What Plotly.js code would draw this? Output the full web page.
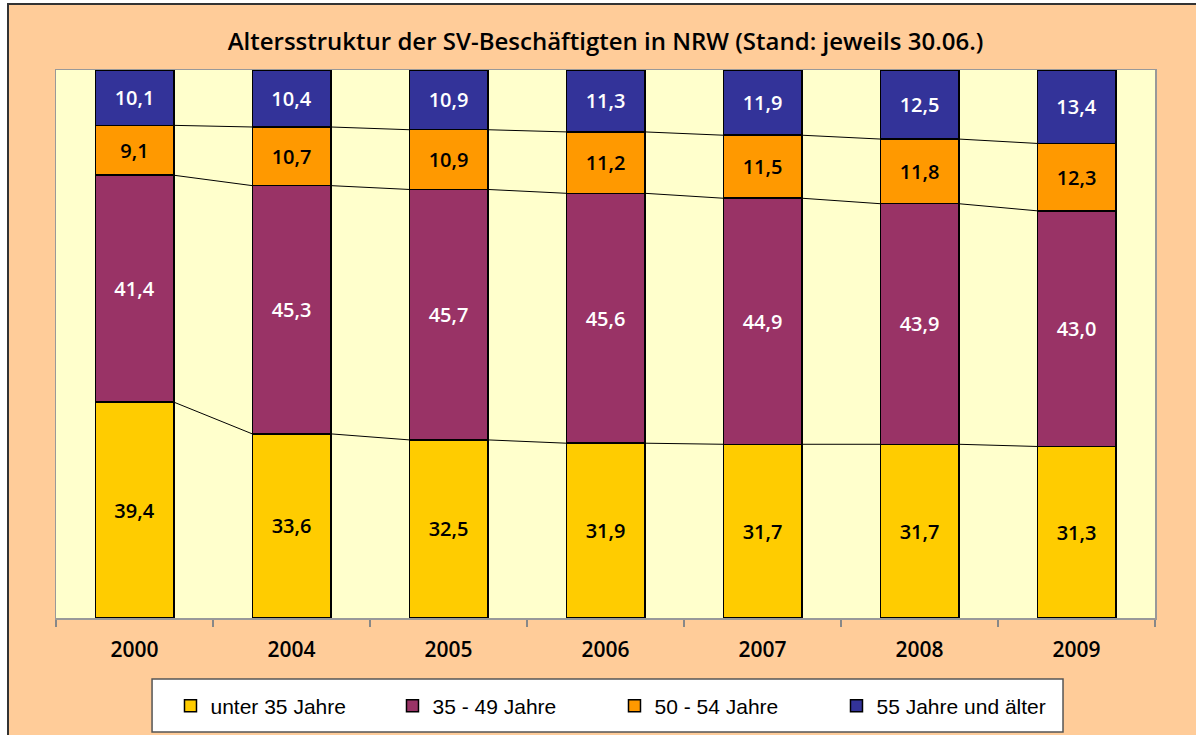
<!DOCTYPE html>
<html><head><meta charset="utf-8">
<script src="https://cdn.plot.ly/plotly-3.0.1.min.js"></script>
<style>
html,body{margin:0;padding:0;background:#fff;overflow:hidden;}
#chart{position:absolute;left:7px;top:3px;width:1187px;height:730px;border-left:2px solid #333;border-top:2px solid #333;}
</style></head><body>
<div id="chart"></div>
<script>
const years = ['2000','2004','2005','2006','2007','2008','2009'];
const seriesNames = ['unter 35 Jahre','35 - 49 Jahre','50 - 54 Jahre','55 Jahre und älter'];
const unter35 = [39.4,33.6,32.5,31.9,31.7,31.7,31.3];
const j35bis49 = [41.4,45.3,45.7,45.6,44.9,43.9,43.0];
const j50bis54 = [9.1,10.7,10.9,11.2,11.5,11.8,12.3];
const ab55 = [10.1,10.4,10.9,11.3,11.9,12.5,13.4];

const seriesValues = [unter35,j35bis49,j50bis54,ab55];
const colors = ['#FFCC00','#993366','#FF9900','#333399'];
const textColors = ['#000','#fff','#000','#fff'];
const barWidth = 0.5;

const traces = seriesValues.map((vals,k)=>({
  type:'bar', x:years, y:vals, name:seriesNames[k], width:barWidth,
  marker:{color:colors[k], line:{color:'#000', width:1.5}},
  texttemplate:'%{y:.1f}', textposition:'inside', insidetextanchor:'middle',
  constraintext:'none', textangle:0,
  textfont:{family:'Open Sans, sans-serif', size:20, color:textColors[k], weight:600},
  hoverinfo:'skip'
}));

// series lines between stacked bar boundaries
const cum = [];
let run = years.map(()=>0);
for (let k=0;k<3;k++){ run = run.map((v,i)=>v+seriesValues[k][i]); cum.push(run.slice()); }
cum.forEach(c=>{
  const lx=[], ly=[];
  for (let i=0;i<years.length-1;i++){
    lx.push(i+barWidth/2, i+1-barWidth/2, null);
    ly.push(c[i], c[i+1], null);
  }
  traces.push({type:'scatter', mode:'lines', x:lx, y:ly, xaxis:'x2', yaxis:'y',
    line:{color:'#000', width:1}, showlegend:false, hoverinfo:'skip', connectgaps:false});
});

const layout = {
  width:1187, height:730,
  paper_bgcolor:'#FFCC99', plot_bgcolor:'#FFFFCC',
  margin:{l:47, r:41, t:65, b:117},
  barmode:'stack', bargap:0.5,
  separators:',.',
  showlegend:true,
  title:{text:'Altersstruktur der SV-Beschäftigten in NRW (Stand: jeweils 30.06.)',
    font:{family:'Open Sans, sans-serif', size:24, color:'#000', weight:600},
    x:0.5, xref:'paper', xanchor:'center', y:0.9493, yref:'container', yanchor:'middle'},
  xaxis:{type:'category', range:[-0.5,6.5], tickson:'boundaries', ticks:'outside', ticklen:7,
    tickcolor:'#888', tickwidth:1.5, showline:true, linecolor:'#999', linewidth:1.5, mirror:true,
    showgrid:false, zeroline:false, fixedrange:true, ticklabelstandoff:12,
    tickfont:{family:'Open Sans, sans-serif', size:21, color:'#000', weight:600}},
  xaxis2:{overlaying:'x', range:[-0.5,6.5], visible:false, fixedrange:true},
  yaxis:{range:[0,100], showticklabels:false, ticks:'', showgrid:false, zeroline:false,
    showline:true, linecolor:'#999', linewidth:1.5, mirror:true, fixedrange:true},
  legend:{orientation:'h', xref:'container', yref:'container', x:0.5101, xanchor:'center',
    y:0.0397, yanchor:'middle',
    bgcolor:'rgba(0,0,0,0)', borderwidth:0, traceorder:'normal',
    entrywidth:177, entrywidthmode:'pixels',
    font:{family:'Liberation Sans, Arial, sans-serif', size:21, color:'#000'}},
  shapes:[{type:'rect', xref:'paper', yref:'paper', x0:0.0874, x1:0.9163, y0:-0.1113, y1:-0.2080,
    fillcolor:'#fff', line:{color:'#555', width:1.5}, layer:'below'}]
};

Plotly.newPlot('chart', traces, layout, {displayModeBar:false, staticPlot:true});
</script>
</body></html>
